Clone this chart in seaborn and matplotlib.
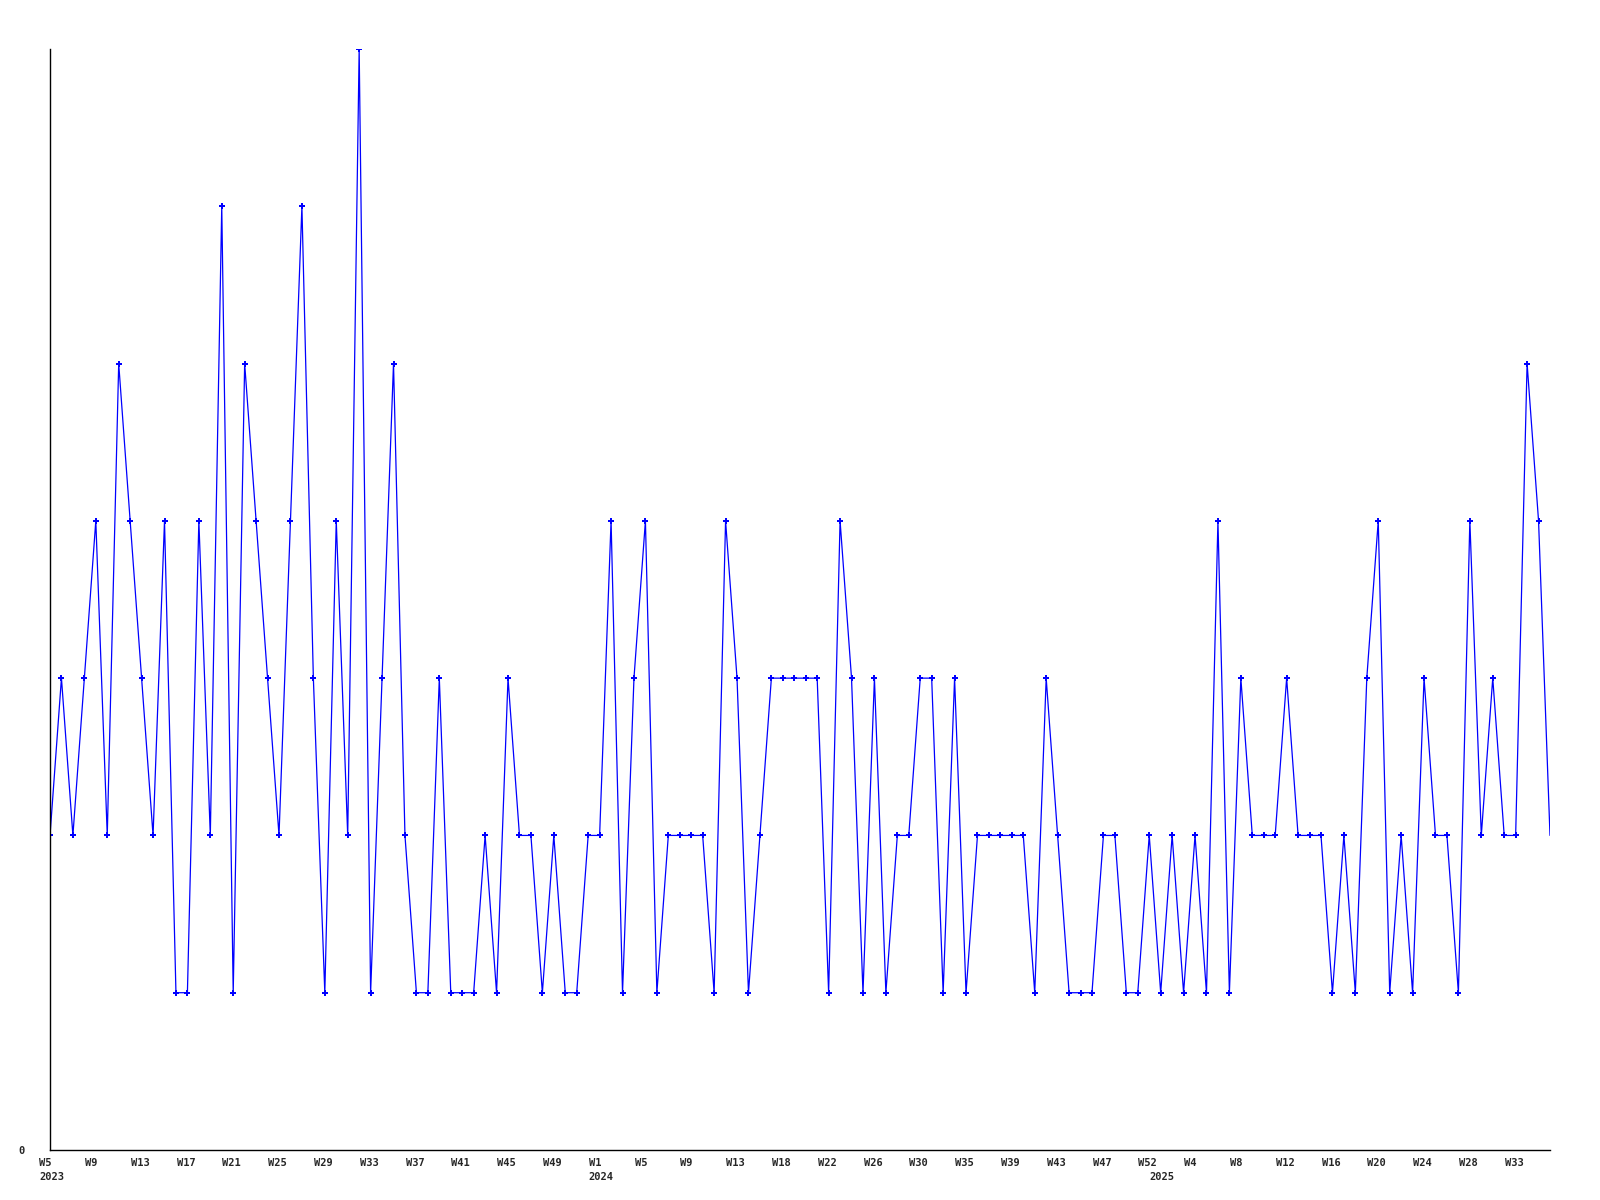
import matplotlib
matplotlib.use("Agg")
import matplotlib.pyplot as plt
import seaborn as sns
import pandas as pd

# weekly counts, 2023 W5 .. 2025 W36 (a few weeks have no data)
weeks_2023 = list(range(5, 53))
weeks_2024 = [w for w in range(1, 53) if w not in (15, 32, 50)]
weeks_2025 = [w for w in range(1, 37) if w != 30]
years = ["2023", "2024", "2025"]

values = [2, 3, 2, 3, 4, 2, 5, 4, 3, 2, 4, 1, 1, 4, 2, 6, 1, 5, 4, 3,
          2, 4, 6, 3, 1, 4, 2, 7, 1, 3, 5, 2, 1, 1, 3, 1, 1, 1, 2, 1,
          3, 2, 2, 1, 2, 1, 1, 2, 2, 4, 1, 3, 4, 1, 2, 2, 2, 2, 1, 4,
          3, 1, 2, 3, 3, 3, 3, 3, 1, 4, 3, 1, 3, 1, 2, 2, 3, 3, 1, 3,
          1, 2, 2, 2, 2, 2, 1, 3, 2, 1, 1, 1, 2, 2, 1, 1, 2, 1, 2, 1,
          2, 1, 4, 1, 3, 2, 2, 2, 3, 2, 2, 2, 1, 2, 1, 3, 4, 1, 2, 1,
          3, 2, 2, 1, 4, 2, 3, 2, 2, 5, 4, 2]

week_labels = ([f"W{w}" for w in weeks_2023] + [f"W{w}" for w in weeks_2024]
               + [f"W{w}" for w in weeks_2025])
year_starts = [0, len(weeks_2023), len(weeks_2023) + len(weeks_2024)]

df = pd.DataFrame({"idx": range(len(values)), "count": values})

sns.set_style("white")
plt.rcParams["font.family"] = ["DejaVu Sans Mono"]

fig = plt.figure(figsize=(16, 12), dpi=100)
ax = fig.add_axes([50 / 1600, 1 - 1150 / 1200, 1500 / 1600, 1101 / 1200])

sns.lineplot(data=df, x="idx", y="count", ax=ax, color="#0000ff", linewidth=0.9,
             marker="P", markersize=4.5, markeredgewidth=0, markevery=slice(0, -1))

ax.set_xlim(0, len(values) - 1)
ax.set_ylim(0, 7)
ax.set_xlabel("")
ax.set_ylabel("")
ax.set_xticks([])
ax.set_yticks([0])
ax.set_yticklabels(["0"], fontsize=7.5, fontweight="bold")
ax.tick_params(axis="y", length=0, pad=18)

for s in ["top", "right"]:
    ax.spines[s].set_visible(False)
for s in ["left", "bottom"]:
    ax.spines[s].set_color("black")
    ax.spines[s].set_linewidth(1)

trans = ax.get_xaxis_transform()
for k in range(0, len(values), 4):
    ax.text(k - 0.95, -12.5 / 1101, week_labels[k], transform=trans,
            ha="left", va="center", fontsize=7.5, fontweight="bold", clip_on=False)
for yr, pos in zip(years, year_starts):
    ax.text(pos - 0.95, -27.5 / 1101, yr, transform=trans,
            ha="left", va="center", fontsize=7.5, fontweight="bold", clip_on=False)

plt.savefig("out.png", dpi=100)
plt.close()
